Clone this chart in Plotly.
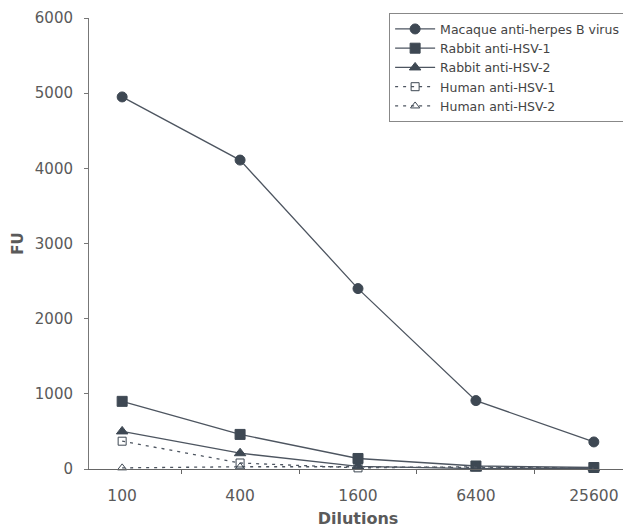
import plotly.graph_objects as go

dilutions = ["100", "400", "1600", "6400", "25600"]
macaque = [4950, 4110, 2400, 910, 360]
rabbit_hsv1 = [900, 460, 140, 40, 20]
rabbit_hsv2 = [500, 210, 35, 5, 10]
human_hsv1 = [370, 80, 15, 30, 10]
human_hsv2 = [15, 30, 30, 20, 10]

y_ticks = [0, 1000, 2000, 3000, 4000, 5000, 6000]

line_col = "#4d5560"
mk_col = "#3e4853"
txt_col = "#5a5a5a"
font_fam = "DejaVu Sans, Arial, sans-serif"

series = [
    ("Macaque anti-herpes B virus", macaque, "circle", "solid", 10),
    ("Rabbit anti-HSV-1", rabbit_hsv1, "square", "solid", 10),
    ("Rabbit anti-HSV-2", rabbit_hsv2, "triangle-up", "solid", 10),
    ("Human anti-HSV-1", human_hsv1, "square-open", "3px,5px", 8),
    ("Human anti-HSV-2", human_hsv2, "triangle-up-open", "3px,5px", 8),
]

fig = go.Figure()
for name, vals, sym, dash, sz in series:
    fig.add_trace(go.Scatter(
        x=dilutions, y=vals, name=name, mode="lines+markers",
        line=dict(color=line_col, width=1.3, dash=dash),
        marker=dict(symbol=sym, size=sz, color=mk_col,
                    line=dict(color=mk_col, width=1)),
        cliponaxis=False,
    ))

fig.update_layout(
    width=631, height=532,
    margin=dict(l=81, r=12, t=10, b=71, autoexpand=False),
    paper_bgcolor="white", plot_bgcolor="white",
    font=dict(family=font_fam, color=txt_col),
    showlegend=True,
    legend=dict(
        xref="container", yref="container",
        x=0.978, xanchor="right", y=0.99, yanchor="top",
        bgcolor="white", bordercolor="#888", borderwidth=1,
        font=dict(size=12.5, color="#444", family=font_fam),
        tracegroupgap=0, itemwidth=40,
    ),
    xaxis=dict(
        type="category", showgrid=False, zeroline=False, automargin=False,
        showline=True, linecolor="#666", linewidth=1,
        ticks="outside", ticklen=4, tickcolor="#666",
        tickson="boundaries", ticklabelstandoff=12,
        ticklabeloverflow="allow",
        tickfont=dict(size=15.5, color=txt_col),
        title=dict(text="<b>Dilutions</b>", font=dict(size=16, color=txt_col), standoff=9),
    ),
    yaxis=dict(
        range=[0, 6000], tickvals=y_ticks, showgrid=False, zeroline=False, automargin=False,
        showline=True, linecolor="#777", linewidth=1,
        ticks="outside", ticklen=4, tickcolor="#777",
        ticklabelstandoff=8, ticklabeloverflow="allow",
        tickfont=dict(size=15, color=txt_col),
        title=dict(text="<b>FU</b>", font=dict(size=15, color=txt_col), standoff=7),
    ),
)

fig.write_html("out.html")
